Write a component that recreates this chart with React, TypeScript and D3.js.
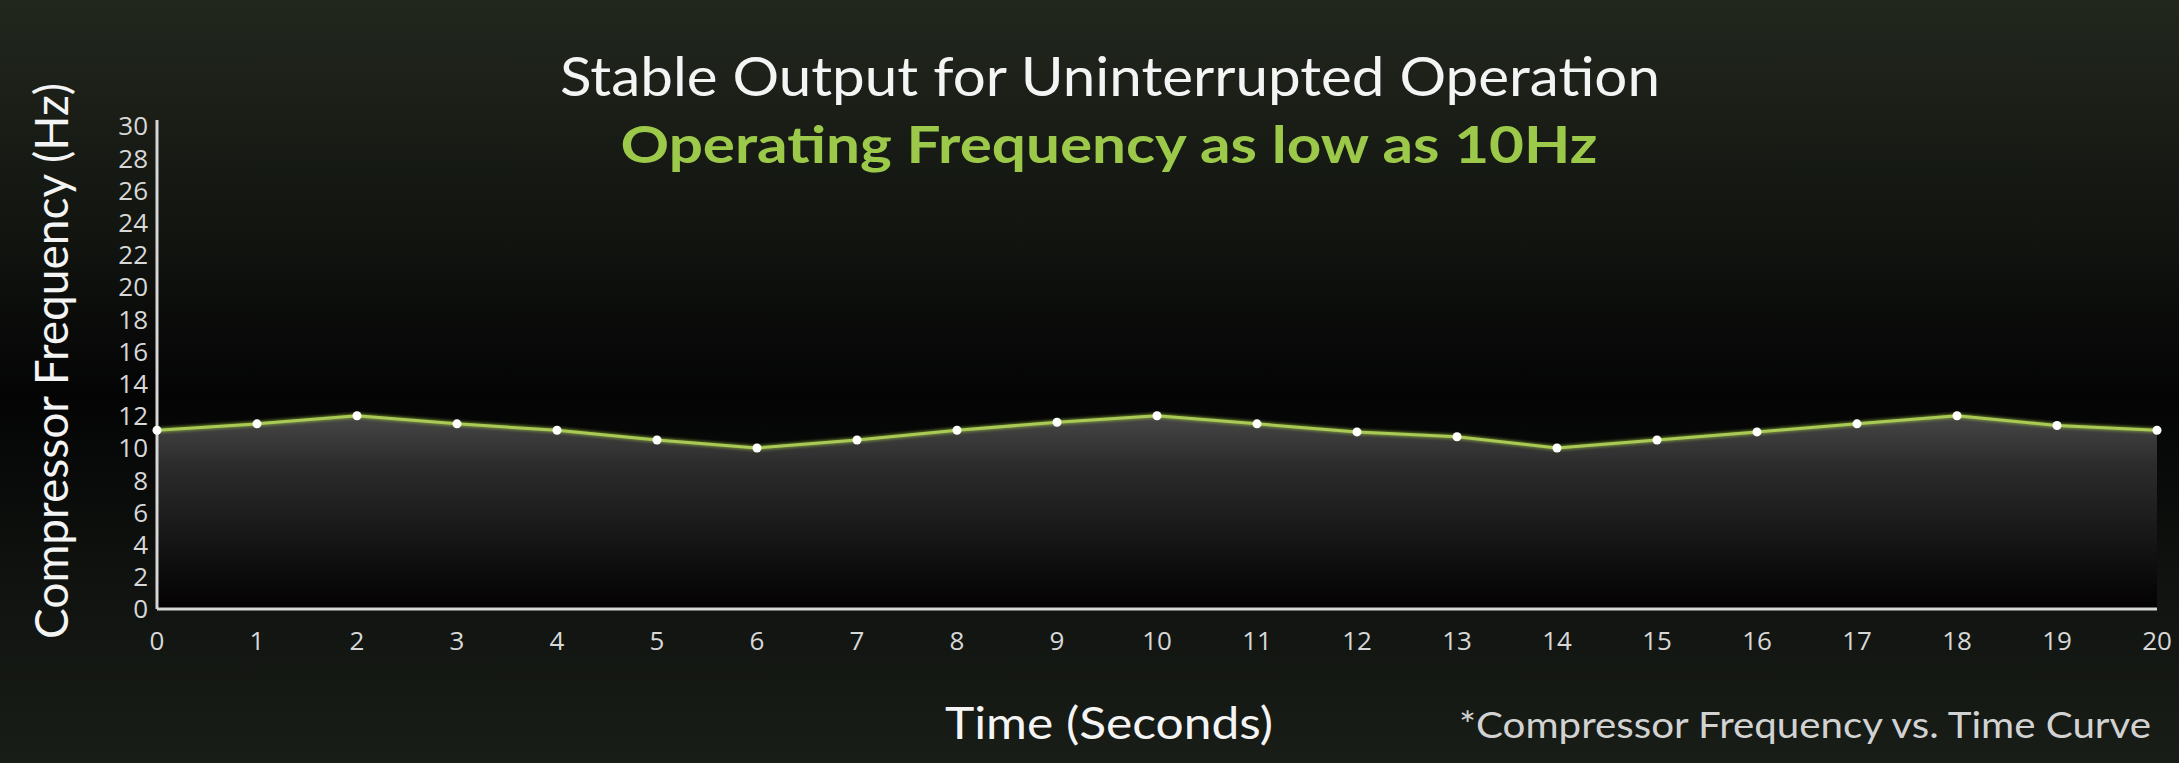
import React, { useEffect, useRef } from 'react';
import * as d3 from 'd3';

const seconds = [0, 1, 2, 3, 4, 5, 6, 7, 8, 9, 10, 11, 12, 13, 14, 15, 16, 17, 18, 19, 20];
const frequency = [11.1, 11.5, 12.0, 11.5, 11.1, 10.5, 10.0, 10.5, 11.1, 11.6, 12.0, 11.5, 11.0, 10.7, 10.0, 10.5, 11.0, 11.5, 12.0, 11.4, 11.1];
const yTicks = [0, 2, 4, 6, 8, 10, 12, 14, 16, 18, 20, 22, 24, 26, 28, 30];

const title = 'Stable Output for Uninterrupted Operation';
const subtitle = 'Operating Frequency as low as 10Hz';
const xTitle = 'Time (Seconds)';
const yTitle = 'Compressor Frequency (Hz)';
const footnote = '*Compressor Frequency vs. Time Curve';

const FrequencyChart: React.FC<{ width?: number; height?: number }> = ({
  width = 2179,
  height = 763,
}) => {
  const svgRef = useRef<SVGSVGElement>(null);

  useEffect(() => {
    if (!svgRef.current) return;
    const svg = d3.select(svgRef.current);
    svg.selectAll('*').remove();

    const left = 157;
    const right = 2157;
    const bottom = 609;
    const top = 126;

    const x = d3.scaleLinear().domain([0, 20]).range([left, right]);
    const y = d3.scaleLinear().domain([0, 30]).range([bottom, top]);

    const defs = svg.append('defs');
    const bg = defs.append('linearGradient')
      .attr('id', 'bg').attr('x1', 0).attr('x2', 0).attr('y1', 0).attr('y2', 1);
    bg.append('stop').attr('offset', '0%').attr('stop-color', '#22271e');
    bg.append('stop').attr('offset', '30%').attr('stop-color', '#121510');
    bg.append('stop').attr('offset', '52%').attr('stop-color', '#040405');
    bg.append('stop').attr('offset', '75%').attr('stop-color', '#0f120f');
    bg.append('stop').attr('offset', '100%').attr('stop-color', '#191d17');

    const areaGrad = defs.append('linearGradient')
      .attr('id', 'areaFill')
      .attr('gradientUnits', 'userSpaceOnUse')
      .attr('x1', 0).attr('x2', 0)
      .attr('y1', y(12)).attr('y2', y(0));
    areaGrad.append('stop').attr('offset', '0%').attr('stop-color', '#464646');
    areaGrad.append('stop').attr('offset', '25%').attr('stop-color', '#2c2c2c');
    areaGrad.append('stop').attr('offset', '60%').attr('stop-color', '#181818');
    areaGrad.append('stop').attr('offset', '100%').attr('stop-color', '#030101');

    const glow = defs.append('filter').attr('id', 'glow')
      .attr('x', '-50%').attr('y', '-50%').attr('width', '200%').attr('height', '200%');
    glow.append('feGaussianBlur').attr('stdDeviation', 1.5);

    svg.append('rect')
      .attr('width', width).attr('height', height)
      .attr('fill', 'url(#bg)');

    // Titles
    svg.append('text')
      .attr('x', 1110).attr('y', 96)
      .attr('text-anchor', 'middle')
      .attr('font-family', 'Lato, sans-serif')
      .attr('font-size', 54)
      .attr('fill', '#f4f4f4')
      .attr('textLength', 1100)
      .attr('lengthAdjust', 'spacingAndGlyphs')
      .text(title);

    svg.append('text')
      .attr('x', 1109).attr('y', 163)
      .attr('text-anchor', 'middle')
      .attr('font-family', 'Lato, sans-serif')
      .attr('font-weight', 700)
      .attr('font-size', 52)
      .attr('fill', '#9cc94a')
      .attr('textLength', 977)
      .attr('lengthAdjust', 'spacingAndGlyphs')
      .text(subtitle);

    // Area under the curve
    const area = d3.area<number>()
      .x((_, i) => x(seconds[i]))
      .y0(y(0))
      .y1(d => y(d));

    svg.append('path')
      .datum(frequency)
      .attr('fill', 'url(#areaFill)')
      .attr('d', area);

    // Axes
    svg.append('line')
      .attr('x1', left).attr('x2', left)
      .attr('y1', top - 6).attr('y2', bottom)
      .attr('stroke', '#d6d6d6').attr('stroke-width', 3);
    svg.append('line')
      .attr('x1', left).attr('x2', right)
      .attr('y1', bottom).attr('y2', bottom)
      .attr('stroke', '#d6d6d6').attr('stroke-width', 3);

    svg.append('g')
      .selectAll('text')
      .data(yTicks)
      .join('text')
      .attr('x', left - 9)
      .attr('y', d => y(d))
      .attr('dy', '0.36em')
      .attr('text-anchor', 'end')
      .attr('font-family', '"Open Sans", sans-serif')
      .attr('font-size', 26)
      .attr('fill', '#d8d8d8')
      .text(d => String(d));

    svg.append('g')
      .selectAll('text')
      .data(seconds)
      .join('text')
      .attr('x', d => x(d))
      .attr('y', 650)
      .attr('text-anchor', 'middle')
      .attr('font-family', '"Open Sans", sans-serif')
      .attr('font-size', 26)
      .attr('fill', '#d8d8d8')
      .text(d => String(d));

    // Line
    const line = d3.line<number>()
      .x((_, i) => x(seconds[i]))
      .y(d => y(d));

    svg.append('path')
      .datum(frequency)
      .attr('fill', 'none')
      .attr('stroke', '#9fc23f')
      .attr('stroke-width', 5)
      .attr('opacity', 0.6)
      .attr('filter', 'url(#glow)')
      .attr('d', line);
    svg.append('path')
      .datum(frequency)
      .attr('fill', 'none')
      .attr('stroke', '#a9ca55')
      .attr('stroke-width', 3)
      .attr('d', line);

    svg.append('g')
      .selectAll('circle')
      .data(frequency)
      .join('circle')
      .attr('cx', (_, i) => x(seconds[i]))
      .attr('cy', d => y(d))
      .attr('r', 4.5)
      .attr('fill', '#ffffff');

    // Axis titles
    svg.append('text')
      .attr('transform', `translate(68, 361) rotate(-90)`)
      .attr('text-anchor', 'middle')
      .attr('font-family', 'Lato, sans-serif')
      .attr('font-size', 46)
      .attr('fill', '#f4f4f4')
      .attr('textLength', 556)
      .attr('lengthAdjust', 'spacingAndGlyphs')
      .text(yTitle);

    svg.append('text')
      .attr('x', 1109).attr('y', 739)
      .attr('text-anchor', 'middle')
      .attr('font-family', 'Lato, sans-serif')
      .attr('font-size', 44)
      .attr('fill', '#f4f4f4')
      .attr('textLength', 328)
      .attr('lengthAdjust', 'spacingAndGlyphs')
      .text(xTitle);

    svg.append('text')
      .attr('x', 1459).attr('y', 738)
      .attr('font-family', 'Lato, sans-serif')
      .attr('font-size', 37)
      .attr('fill', '#d2d2d2')
      .attr('textLength', 692)
      .attr('lengthAdjust', 'spacingAndGlyphs')
      .text(footnote);
  }, [width, height]);

  return (
    <div style={{ position: 'absolute', left: 0, top: 0 }}>
      <svg ref={svgRef} width={width} height={height} style={{ display: 'block' }} />
    </div>
  );
};

export default function App() {
  return <FrequencyChart />;
}
